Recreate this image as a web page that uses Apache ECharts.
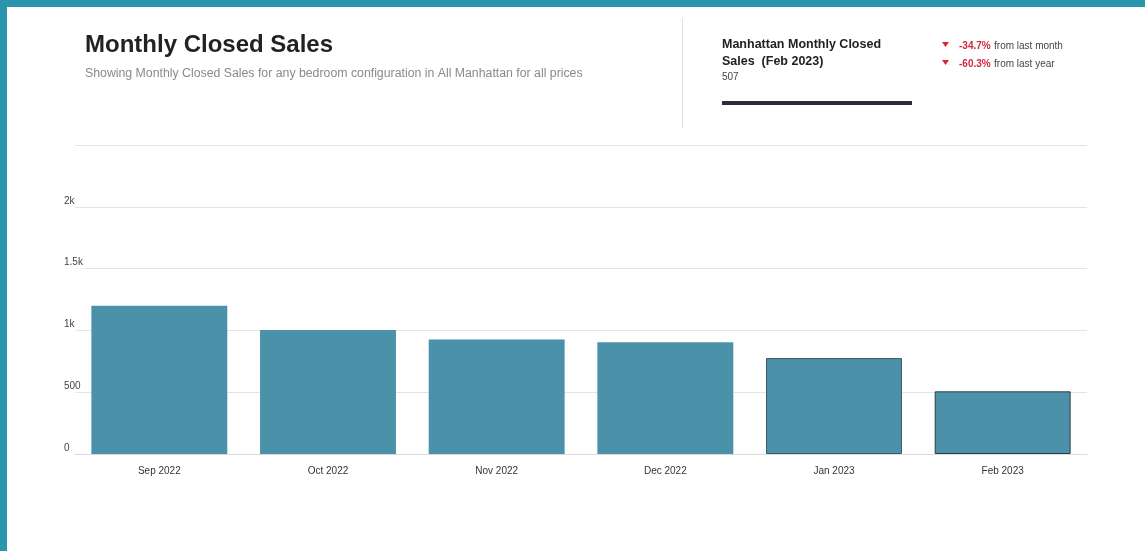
<!DOCTYPE html>
<html>
<head>
<meta charset="utf-8">
<script src="https://cdn.jsdelivr.net/npm/echarts@6/dist/echarts.min.js"></script>
<style>
  html, body { margin: 0; padding: 0; background: #fff; }
  #chart { width: 1145px; height: 551px; }
</style>
</head>
<body>
<div id="chart"></div>
<script>
// data
const months = ['Sep 2022', 'Oct 2022', 'Nov 2022', 'Dec 2022', 'Jan 2023', 'Feb 2023'];
const closedSales = [1200, 1003, 926, 904, 776, 507];
const yTickLabels = ['0', '500', '1k', '1.5k', '2k', ''];
const changeValues = ['-34.7%', '-60.3%'];
const changeTexts = ['from last month', 'from last year'];

const FONT = 'Liberation Sans';
const barColor = '#4b91a9';

const chart = echarts.init(document.getElementById('chart'));

// last two bars carry a dark outline in the reference
const barData = closedSales.map((v, i) => {
  if (i === closedSales.length - 1) {
    return { value: v, itemStyle: { borderColor: '#2f3d47', borderWidth: 1 } };
  }
  if (i === closedSales.length - 2) {
    return { value: v, itemStyle: { borderColor: '#3f5966', borderWidth: 1 } };
  }
  return v;
});

const changeLines = changeValues.map((v, i) => ({
  type: 'group',
  left: 942,
  top: 40 + i * 18,
  children: [
    { type: 'polygon', shape: { points: [[0, 2], [7, 2], [3.5, 7]] }, style: { fill: '#d1283e' } },
    {
      type: 'text', x: 17, y: 0,
      style: {
        text: '{v|' + v + '} {t|' + changeTexts[i] + '}',
        rich: {
          v: { fontFamily: FONT, fontSize: 10, fontWeight: 'bold', fill: '#d1283e' },
          t: { fontFamily: FONT, fontSize: 10, fill: '#444' }
        }
      }
    }
  ]
}));

const options = {
  animation: false,
  backgroundColor: '#fff',
  textStyle: { fontFamily: FONT },
  grid: { left: 75, right: 58, top: 145, bottom: 97, containLabel: false },
  xAxis: {
    type: 'category',
    data: months,
    axisLine: { lineStyle: { color: '#dcdcdc' } },
    axisTick: { show: false },
    axisLabel: { color: '#333', fontSize: 10, margin: 12, fontFamily: FONT }
  },
  yAxis: {
    type: 'value',
    min: 0,
    max: 2500,
    interval: 500,
    axisLine: { show: false },
    axisTick: { show: false },
    splitLine: { lineStyle: { color: '#e4e4e4' } },
    axisLabel: {
      color: '#444',
      fontSize: 10,
      fontFamily: FONT,
      align: 'left',
      verticalAlign: 'bottom',
      margin: 11,
      padding: [0, 2, 1, 0],
      backgroundColor: '#fff',
      formatter: (value, index) => yTickLabels[index]
    }
  },
  series: [{
    type: 'bar',
    data: barData,
    barCategoryGap: '19.4%',
    itemStyle: { color: barColor }
  }],
  graphic: [
    // frame strips
    { type: 'rect', left: 0, top: 0, shape: { width: 1145, height: 7 }, style: { fill: '#2b95ad' } },
    { type: 'rect', left: 0, top: 0, shape: { width: 7, height: 551 }, style: { fill: '#2b95ad' } },
    // header
    {
      type: 'text', left: 85, top: 33,
      style: { text: 'Monthly Closed Sales', fontFamily: FONT, fontSize: 24, fontWeight: 'bold', fill: '#222' }
    },
    {
      type: 'text', left: 85, top: 68,
      style: { text: 'Showing Monthly Closed Sales for any bedroom configuration in All Manhattan for all prices', fontFamily: FONT, fontSize: 12.3, fill: '#8a8a8a' }
    },
    { type: 'rect', left: 682, top: 18, shape: { width: 1, height: 110 }, style: { fill: '#e2e2e2' } },
    {
      type: 'text', left: 722, top: 36,
      style: { text: 'Manhattan Monthly Closed\nSales  (Feb 2023)', fontFamily: FONT, fontSize: 12.5, fontWeight: 'bold', lineHeight: 17, fill: '#222' }
    },
    {
      type: 'text', left: 722, top: 72,
      style: { text: String(closedSales[closedSales.length - 1]), fontFamily: FONT, fontSize: 10, fill: '#444' }
    },
    { type: 'rect', left: 722, top: 101, shape: { width: 190, height: 4 }, style: { fill: '#2b2e3b' } },
    ...changeLines
  ]
};

chart.setOption(options);
</script>
</body>
</html>
